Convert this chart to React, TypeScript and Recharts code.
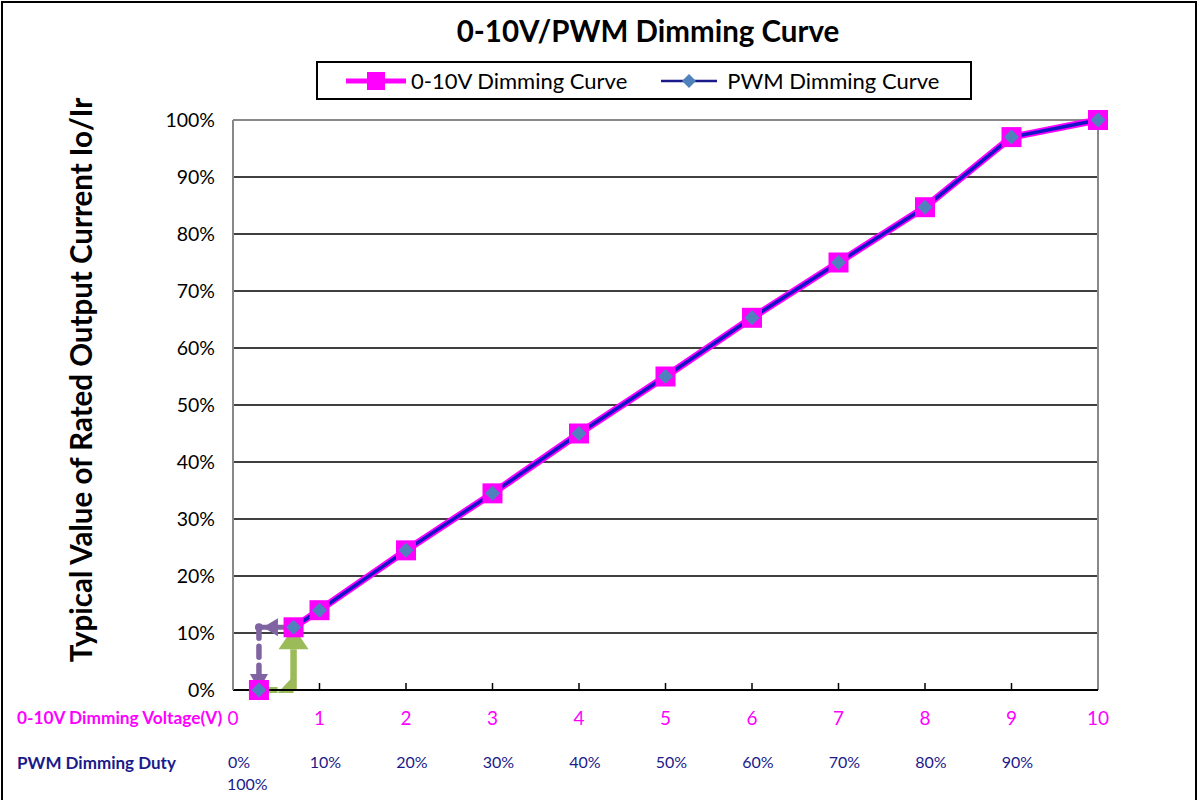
import React from 'react';
import { LineChart, Line, XAxis, YAxis, CartesianGrid, ReferenceLine, Legend } from 'recharts';

const voltage = [0.3, 0.7, 1, 2, 3, 4, 5, 6, 7, 8, 9, 10];
const outputPct = [0, 11, 14, 24.5, 34.5, 45, 55, 65.3, 75, 84.7, 97, 100];
const xTicks = [0, 1, 2, 3, 4, 5, 6, 7, 8, 9, 10];
const voltageTickLabels = ['0', '1', '2', '3', '4', '5', '6', '7', '8', '9', '10'];
const pwmTickLabels = ['0%', '10%', '20%', '30%', '40%', '50%', '60%', '70%', '80%', '90%', ''];
const pwmExtraLabel = '100%';
const yTicks = [0, 10, 20, 30, 40, 50, 60, 70, 80, 90, 100];
const purplePath = [{ x: 0.7, y: 11 }, { x: 0.3, y: 11 }, { x: 0.3, y: 0 }];
const greenPath = [{ x: 0.3, y: 0 }, { x: 0.7, y: 0 }, { x: 0.7, y: 11 }];

const FONT = 'Lato, "Open Sans", sans-serif';
const MAGENTA = '#ff00ff';
const NAVY = '#1a1a8a';
const BLUE_LINE = '#1515c8';
const DIAMOND = '#4f81bd';
const PURPLE = '#8064a2';
const GREEN = '#9bbb59';

// first point is drawn as a marker only (not joined to the curve)
const data = voltage.map((v, i) => ({
  v,
  a: i === 0 ? null : outputPct[i],
  b: i === 0 ? null : outputPct[i],
  a0: i === 0 ? outputPct[i] : null,
  b0: i === 0 ? outputPct[i] : null,
}));

const SquareDot = (p: any) => {
  const { cx, cy, index } = p;
  if (cx == null || cy == null || p.value == null) return <g key={`sqe-${index}`} />;
  return <rect key={`sq-${index}`} x={cx - 10} y={cy - 10} width={20} height={20} fill={MAGENTA} />;
};

const DiamondDot = (p: any) => {
  const { cx, cy, index } = p;
  if (cx == null || cy == null || p.value == null) return <g key={`dme-${index}`} />;
  const r = 7.5;
  return (
    <polygon
      key={`dm-${index}`}
      points={`${cx},${cy - r} ${cx + r},${cy} ${cx},${cy + r} ${cx - r},${cy}`}
      fill={DIAMOND}
    />
  );
};

const XTick = (p: any) => {
  const { x, y, payload } = p;
  const i = xTicks.indexOf(payload.value);
  const vLabel = voltageTickLabels[i] ?? '';
  const pLabel = pwmTickLabels[i] ?? '';
  return (
    <g>
      {i > 0 && i < xTicks.length - 1 && <line x1={x} y1={y} x2={x} y2={y - 7} stroke="#000" strokeWidth={1.5} />}
      <text x={x} y={y + 27} textAnchor="middle" dominantBaseline="central" fill={MAGENTA} fontSize={19} fontFamily={FONT}>
        {vLabel}
      </text>
      {i === 0 ? (
        <>
          <text x={x - 5} y={y + 71} textAnchor="start" dominantBaseline="central" fill={NAVY} fontSize={16} fontFamily={FONT}>
            {pLabel}
          </text>
          <text x={x - 6} y={y + 93} textAnchor="start" dominantBaseline="central" fill={NAVY} fontSize={16} fontFamily={FONT}>
            {pwmExtraLabel}
          </text>
          <text x={17} y={y + 27} textAnchor="start" dominantBaseline="central" fill={MAGENTA} fontSize={17.3} fontWeight="bold" fontFamily={FONT}>
            0-10V Dimming Voltage(V)
          </text>
          <text x={17} y={y + 72} textAnchor="start" dominantBaseline="central" fill={NAVY} fontSize={17} fontWeight="bold" fontFamily={FONT}>
            PWM Dimming Duty
          </text>
        </>
      ) : (
        <text x={x + 6} y={y + 71} textAnchor="middle" dominantBaseline="central" fill={NAVY} fontSize={16} fontFamily={FONT}>
          {pLabel}
        </text>
      )}
    </g>
  );
};

type ArrowOpts = {
  color: string;
  width: number;
  dash?: string;
  headLen: number;
  headW: number;
  tipBack?: number;
  endDot?: boolean;
  cornerWedge?: boolean;
};

const makeArrow = (o: ArrowOpts) => (props: any) => {
  const { x1, y1, x2, y2 } = props;
  if ([x1, y1, x2, y2].some((v) => v == null || isNaN(v))) return <g />;
  const dx = x2 - x1;
  const dy = y2 - y1;
  const len = Math.sqrt(dx * dx + dy * dy) || 1;
  const ux = dx / len;
  const uy = dy / len;
  const back = o.tipBack ?? 0;
  const tx = x2 - ux * back;
  const ty = y2 - uy * back;
  const bx = tx - ux * o.headLen;
  const by = ty - uy * o.headLen;
  const px = -uy * (o.headW / 2);
  const py = ux * (o.headW / 2);
  const lineEndX = o.endDot ? x2 : bx;
  const lineEndY = o.endDot ? y2 : by;
  return (
    <g>
      <line
        x1={x1}
        y1={y1}
        x2={lineEndX}
        y2={lineEndY}
        stroke={o.color}
        strokeWidth={o.width}
        strokeDasharray={o.dash}
        strokeLinecap={o.dash ? 'round' : 'butt'}
      />
      {o.cornerWedge ? (
        <polygon points={`${x2},${y2 + o.width / 2} ${x2 - o.headLen},${y2 + o.width / 2} ${x2},${y2 - o.headW}`} fill={o.color} />
      ) : (
        <polygon points={`${tx},${ty} ${bx + px},${by + py} ${bx - px},${by - py}`} fill={o.color} />
      )}
      {o.endDot && <circle cx={x2} cy={y2} r={o.width * 0.8} fill={o.color} />}
    </g>
  );
};

const purpleArrow1 = makeArrow({ color: PURPLE, width: 5, dash: undefined, headLen: 15, headW: 18, tipBack: 4, endDot: true });
const purpleArrow2 = makeArrow({ color: PURPLE, width: 5.5, dash: '11 8', headLen: 16, headW: 18 });
const greenArrow1 = makeArrow({ color: GREEN, width: 6, headLen: 16, headW: 14, cornerWedge: true });
const greenArrow2 = makeArrow({ color: GREEN, width: 6.5, headLen: 22, headW: 30 });

const LegendBox = () => (
  <div
    style={{
      boxSizing: 'border-box',
      width: 656,
      height: 39,
      border: '2px solid #000',
      background: '#fff',
      display: 'flex',
      alignItems: 'center',
      fontFamily: FONT,
      fontSize: 22,
      color: '#000',
    }}
  >
    <svg width={70} height={30} style={{ marginLeft: 26 }}>
      <line x1={2} y1={15} x2={62} y2={15} stroke={MAGENTA} strokeWidth={5} />
      <rect x={23} y={6} width={18} height={18} fill={MAGENTA} />
    </svg>
    <span style={{ marginLeft: -3 }}>0-10V Dimming Curve</span>
    <svg width={64} height={30} style={{ marginLeft: 32 }}>
      <line x1={2} y1={15} x2={58} y2={15} stroke={NAVY} strokeWidth={2.5} />
      <polygon points="30,8 37,15 30,22 23,15" fill={DIAMOND} />
    </svg>
    <span style={{ marginLeft: 4 }}>PWM Dimming Curve</span>
  </div>
);

const YLabel = () => (
  <text
    x={80}
    y={380}
    transform="rotate(-90, 80, 380)"
    textAnchor="middle"
    dominantBaseline="central"
    fontSize={29.5}
    fontWeight="bold"
    fontFamily={FONT}
    fill="#000"
  >
    Typical Value of Rated Output Current Io/Ir
  </text>
);

export default function App() {
  return (
    <div style={{ position: 'absolute', left: 0, top: 0, width: 1200, height: 800, background: '#fff', overflow: 'hidden' }}>
      <div
        style={{
          position: 'absolute',
          left: 1,
          top: 1,
          width: 1196,
          height: 810,
          border: '2px solid #000',
          boxSizing: 'border-box',
          pointerEvents: 'none',
        }}
      />
      <div
        style={{
          position: 'absolute',
          left: 398,
          top: 13,
          width: 500,
          textAlign: 'center',
          fontFamily: FONT,
          fontWeight: 'bold',
          fontSize: 29.5,
          color: '#000',
        }}
      >
        0-10V/PWM Dimming Curve
      </div>
      <div style={{ position: 'absolute', left: 0, top: 0 }}>
        <LineChart width={1200} height={800} data={data} margin={{ top: 81, right: 102, left: 173, bottom: 20 }}>
          <CartesianGrid horizontal vertical={false} stroke="#000" strokeWidth={1.3} strokeDasharray="" />
          <XAxis
            dataKey="v"
            type="number"
            domain={[0, 10]}
            ticks={xTicks}
            interval={0}
            height={90}
            tickLine={false}
            tickSize={0}
            tickMargin={0}
            axisLine={{ stroke: '#000', strokeWidth: 2 }}
            tick={(p: any) => <XTick {...p} />}
          />
          <YAxis
            type="number"
            domain={[0, 100]}
            ticks={yTicks}
            interval={0}
            width={60}
            tickLine={false}
            tickMargin={12}
            axisLine={{ stroke: '#888', strokeWidth: 2 }}
            tickFormatter={(v: number) => `${v}%`}
            tick={{ fill: '#000', fontSize: 19.5, fontFamily: FONT }}
            label={<YLabel />}
          />
          <ReferenceLine y={100} stroke="#888" strokeWidth={2} />
          <ReferenceLine x={10} stroke="#888" strokeWidth={2} />
          <Legend
            verticalAlign="top"
            content={() => <LegendBox />}
            wrapperStyle={{ position: 'absolute', left: 316, top: 61, width: 656, height: 39 }}
          />
          <Line
            type="linear"
            dataKey="a"
            name="0-10V Dimming Curve"
            stroke={MAGENTA}
            strokeWidth={7}
            dot={SquareDot}
            activeDot={false}
            isAnimationActive={false}
          />
          <Line
            type="linear"
            dataKey="a0"
            legendType="none"
            stroke="none"
            dot={SquareDot}
            activeDot={false}
            isAnimationActive={false}
          />
          <Line
            type="linear"
            dataKey="b"
            name="PWM Dimming Curve"
            stroke={BLUE_LINE}
            strokeWidth={3.5}
            dot={DiamondDot}
            activeDot={false}
            isAnimationActive={false}
          />
          <Line
            type="linear"
            dataKey="b0"
            legendType="none"
            stroke="none"
            dot={DiamondDot}
            activeDot={false}
            isAnimationActive={false}
          />
          <ReferenceLine segment={[greenPath[0], greenPath[1]]} shape={greenArrow1} />
          <ReferenceLine segment={[greenPath[1], greenPath[2]]} shape={greenArrow2} />
          <ReferenceLine segment={[purplePath[0], purplePath[1]]} shape={purpleArrow1} />
          <ReferenceLine segment={[purplePath[1], purplePath[2]]} shape={purpleArrow2} />
        </LineChart>
      </div>
    </div>
  );
}
